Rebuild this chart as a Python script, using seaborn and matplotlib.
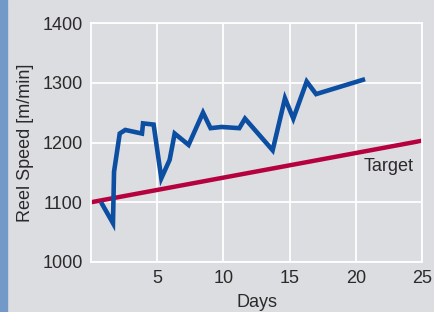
import numpy as np
import pandas as pd
import matplotlib
matplotlib.use("Agg")
import matplotlib.pyplot as plt
from matplotlib.patches import Rectangle
import seaborn as sns

# reel speed readings
days = [0.76, 1.66, 1.74, 2.17, 2.59, 3.85, 3.93, 4.73, 5.31, 5.94, 6.32,
        7.37, 8.46, 9.03, 9.87, 11.2, 11.63, 13.72, 14.65, 15.28, 16.29,
        17.0, 20.7]
speed = [1100, 1065, 1151, 1215, 1221, 1215, 1232, 1230, 1140, 1171, 1215,
         1196, 1250, 1224, 1226, 1224, 1240, 1187, 1274, 1240, 1302,
         1281, 1306]

target_days = [0, 25]
target_speed = [1100, 1203]

x_ticks = [5, 10, 15, 20, 25]
y_ticks = [1000, 1100, 1200, 1300, 1400]

BG = "#dcdde0"
BLUE = "#0c4ea2"
RED = "#b5023f"
TXT = "#2a2a2a"

sns.set_style("whitegrid", {
    "axes.facecolor": BG,
    "figure.facecolor": BG,
    "grid.color": "white",
    "axes.edgecolor": "white",
})
plt.rcParams["font.family"] = ["Liberation Sans", "DejaVu Sans"]

df = pd.DataFrame({"Days": days, "Speed": speed})
tgt = pd.DataFrame({"Days": target_days, "Speed": target_speed})

fig = plt.figure(figsize=(4.34, 3.12), dpi=100)
ax = fig.add_axes([91 / 434, 1 - 262 / 312, 331 / 434, 239 / 312])

sns.lineplot(data=tgt, x="Days", y="Speed", color=RED, lw=3.2, ax=ax,
             solid_capstyle="butt")
sns.lineplot(data=df, x="Days", y="Speed", color=BLUE, lw=3.3, ax=ax,
             solid_joinstyle="miter", solid_capstyle="butt")

ax.set_xlim(0, 25)
ax.set_ylim(1000, 1400)
ax.set_xticks(x_ticks)
ax.set_yticks(y_ticks)
ax.grid(True, color="white", lw=1.3)
for sp in ax.spines.values():
    sp.set_color("white")
    sp.set_linewidth(1.3)
ax.tick_params(length=0, labelsize=13, colors=TXT)
ax.tick_params(axis="x", pad=6)
ax.tick_params(axis="y", pad=6)
ax.set_xlabel("Days", fontsize=13, color=TXT, labelpad=5)
ax.set_ylabel("Reel Speed [m/min]", fontsize=13, color=TXT, labelpad=6)

ax.text(20.6, 1159, "Target", fontsize=13, color=TXT, va="center")

# blue strip on the left edge
fig.patches.append(Rectangle((0, 0), 7 / 434, 1, transform=fig.transFigure,
                             color="#7399c9", zorder=0))

fig.savefig("out.png", dpi=100, facecolor=BG)
